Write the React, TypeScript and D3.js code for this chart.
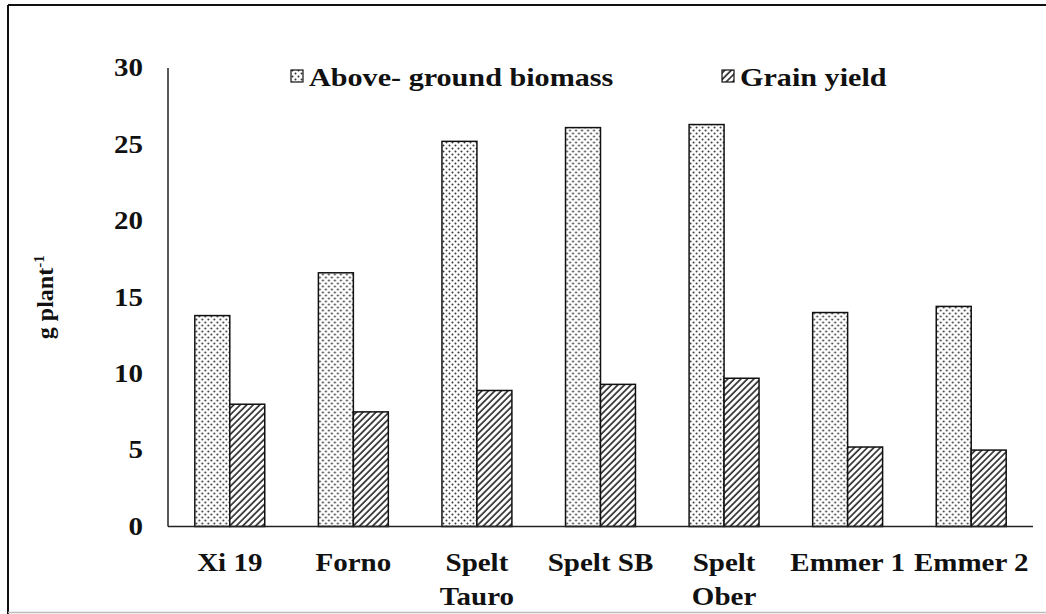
import React from "react";
import * as d3 from "d3";

const categories = ["Xi 19", "Forno", "Spelt\nTauro", "Spelt SB", "Spelt\nOber", "Emmer 1", "Emmer 2"];
const biomass = [13.8, 16.6, 25.2, 26.1, 26.3, 14.0, 14.4];
const grainYield = [8.0, 7.5, 8.9, 9.3, 9.7, 5.2, 5.0];
const series = ["Above- ground biomass", "Grain yield"];
const yTicks = [0, 5, 10, 15, 20, 25, 30];

const W = 1046;
const H = 614;
const margin = { top: 68, right: 13, bottom: 87.5, left: 168 };
const FONT = "'Liberation Serif', 'Times New Roman', serif";
const SX = 1.16; // scanned text is a bit stretched horizontally

export default function App() {
  const x0 = d3.scaleBand<string>()
    .domain(categories)
    .range([margin.left, W - margin.right])
    .paddingInner(0.434)
    .paddingOuter(0.217);
  const x1 = d3.scaleBand<string>().domain(series).range([0, x0.bandwidth()]);
  const y = d3.scaleLinear().domain([0, 30]).range([H - margin.bottom, margin.top]);
  const fills = ["url(#dots)", "url(#hatch)"];
  const values = [biomass, grainYield];

  const stretched = (tx: number, ty: number) => `translate(${tx},${ty}) scale(${SX},1)`;

  return (
    <svg width={W} height={H} style={{ position: "absolute", left: 0, top: 0 }} fontFamily={FONT}>
      <defs>
        <pattern id="dots" width={6} height={6} patternUnits="userSpaceOnUse">
          <rect width={6} height={6} fill="#fff" />
          <circle cx={1.5} cy={1.5} r={1} fill="#333" />
          <circle cx={4.5} cy={4.5} r={1} fill="#333" />
        </pattern>
        <pattern id="hatch" width={4.6} height={4.6} patternUnits="userSpaceOnUse" patternTransform="rotate(45)">
          <rect width={4.6} height={4.6} fill="#fff" />
          <line x1={1} y1={0} x2={1} y2={4.6} stroke="#222" strokeWidth={1.6} />
        </pattern>
      </defs>
      <rect width={W} height={H} fill="#fff" />
      {/* frame */}
      <line x1={8} y1={5} x2={W} y2={5} stroke="#111" strokeWidth={2} />
      <line x1={8} y1={5} x2={8} y2={H} stroke="#111" strokeWidth={2} />
      <line x1={8} y1={612.5} x2={W} y2={612.5} stroke="#bbb" strokeWidth={1.5} />

      {/* y axis */}
      <line x1={margin.left} x2={margin.left} y1={y(30)} y2={y(0)} stroke="#222" strokeWidth={1.5} />
      {yTicks.map(t => (
        <text key={t} transform={stretched(143, y(t))} textAnchor="end" dominantBaseline="central"
          fontSize={25} fontWeight="bold" fill="#111">{t}</text>
      ))}
      <text transform={`translate(53,${(y(0) + y(30)) / 2}) rotate(-90)`} textAnchor="middle"
        fontSize={24} fontWeight="bold" fill="#111">
        g plant<tspan fontSize={15} dy={-9}>-1</tspan>
      </text>

      {/* bars */}
      {categories.map((c, i) => (
        <g key={c} transform={`translate(${x0(c)},0)`}>
          {series.map((s, j) => (
            <rect key={s} x={x1(s)} y={y(values[j][i])} width={x1.bandwidth()}
              height={y(0) - y(values[j][i])} fill={fills[j]} stroke="#111" strokeWidth={1.5} />
          ))}
        </g>
      ))}

      {/* x axis */}
      <line x1={margin.left} x2={W - margin.right} y1={y(0)} y2={y(0)} stroke="#222" strokeWidth={1.5} />
      {categories.map(c => {
        const cx = (x0(c) as number) + x0.bandwidth() / 2;
        return c.split("\n").map((line, k) => (
          <text key={c + k} transform={stretched(cx, 563 + k * 34)} textAnchor="middle" dominantBaseline="central"
            fontSize={25} fontWeight="bold" fill="#111">{line}</text>
        ));
      })}

      {/* legend */}
      {series.map((s, j) => {
        const lx = j === 0 ? 291 : 722;
        return (
          <g key={s}>
            <rect x={lx} y={70} width={12} height={12} fill={fills[j]} stroke="#111" strokeWidth={1.2} />
            <text transform={stretched(lx + 18, 77)} dominantBaseline="central" fontSize={26}
              fontWeight="bold" fill="#111">{s}</text>
          </g>
        );
      })}
    </svg>
  );
}
